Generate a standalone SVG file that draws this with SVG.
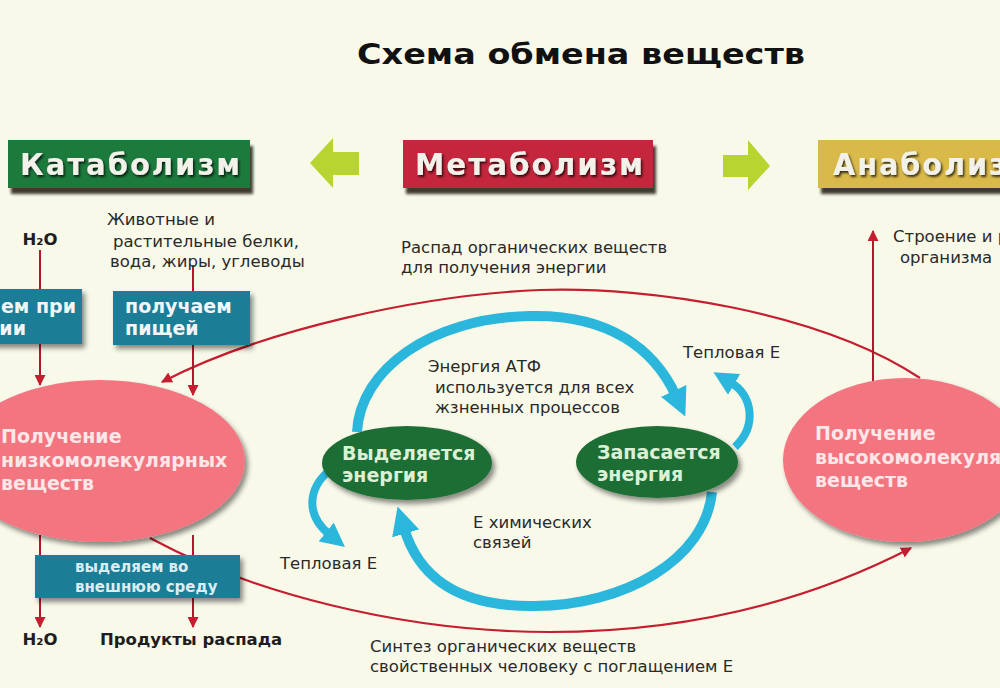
<svg xmlns="http://www.w3.org/2000/svg" width="1000" height="688" viewBox="0 0 1000 688">
<defs>
<filter id="hsh" x="-10%" y="-20%" width="130%" height="170%"><feDropShadow dx="3" dy="6" stdDeviation="1.8" flood-color="#1a1208" flood-opacity="0.85"/></filter>
<filter id="sh" x="-10%" y="-20%" width="130%" height="160%"><feDropShadow dx="3" dy="4" stdDeviation="2.5" flood-color="#000" flood-opacity="0.45"/></filter>
<filter id="tsh" x="-5%" y="-20%" width="115%" height="150%"><feDropShadow dx="1.5" dy="2" stdDeviation="0.8" flood-color="#000" flood-opacity="0.75"/></filter>
<marker id="ra" viewBox="0 0 10 10" refX="9" refY="5" markerWidth="11" markerHeight="11" markerUnits="userSpaceOnUse" orient="auto"><path d="M0,0 L10,5 L0,10 z" fill="#c41e30"/></marker>
<marker id="ba" viewBox="0 0 10 10" refX="2" refY="5" markerWidth="28" markerHeight="28" markerUnits="userSpaceOnUse" orient="auto"><path d="M0,0 L10,5 L0,10 z" fill="#2bb6dc"/></marker>
<marker id="bs" viewBox="0 0 10 10" refX="2" refY="5" markerWidth="24" markerHeight="24" markerUnits="userSpaceOnUse" orient="auto"><path d="M0,0 L10,5 L0,10 z" fill="#2bb6dc"/></marker>
<style>
text{font-family:"DejaVu Sans",Verdana,"Liberation Sans",sans-serif}
.lbl{font-size:16.5px;fill:#2a2a2a}
.blbl{font-size:16.5px;font-weight:bold;fill:#1e1e1e}
.head{font-size:30px;font-weight:bold;fill:#f2f2ea;letter-spacing:2px}
.teal{fill:#1a7d96}
.tt{font-size:19px;font-weight:bold;fill:#f2f6f8}
.pink{fill:#f27580}
.pt{font-size:19px;font-weight:bold;fill:#fde6e8}
.green{fill:#1f6e36}
.gt{font-size:19px;font-weight:bold;fill:#dcf0d6}
.rl{fill:none;stroke:#c41e30;stroke-width:2.2}
.vl{fill:none;stroke:#b5162c;stroke-width:2}
.bl{fill:none;stroke:#2bb6dc;stroke-width:10}
.bh{fill:none;stroke:#2bb6dc;stroke-width:8}
.lime{fill:#b8d430}
</style>
</defs>
<rect width="1000" height="688" fill="#f8f9e9"/>

<text id="title" x="581" y="64" text-anchor="middle" font-size="28" font-weight="bold" fill="#111" textLength="448" lengthAdjust="spacingAndGlyphs">Схема обмена веществ</text>

<g id="connectors">
  <path class="rl" d="M920 378 C820 312 650 286 540 290 C420 295 262 330 162 382" marker-end="url(#ra)"/>
  <path class="rl" d="M150 538 C250 592 400 632 550 632 C700 632 820 595 911 548" marker-end="url(#ra)"/>
  <path class="vl" d="M40 250 V385" marker-end="url(#ra)"/>
  <path class="vl" d="M193 265 V395" marker-end="url(#ra)"/>
  <path class="vl" d="M40 535 V627" marker-end="url(#ra)"/>
  <path class="vl" d="M193 535 V627" marker-end="url(#ra)"/>
  <path class="vl" d="M873 381 V231" marker-end="url(#ra)"/>
  <path class="bl" d="M357 432 C360 370 430 318 530 316 C610 314 655 350 676 396" marker-end="url(#ba)"/>
  <path class="bl" d="M712 492 C705 560 625 605 535 606 C455 607 418 575 404 528" marker-end="url(#ba)"/>
  <path class="bh" d="M330 470 C308 488 305 515 330 535" marker-end="url(#bs)"/>
  <path class="bh" d="M735 447 C758 425 752 395 730 382" marker-end="url(#bs)"/>
</g>

<g id="catabolism">
  <rect x="8" y="140" width="242" height="48" fill="#1d7a3c" filter="url(#hsh)"/>
  <text class="head" x="20" y="175" textLength="222" lengthAdjust="spacingAndGlyphs" filter="url(#tsh)">Катаболизм</text>
</g>
<polygon id="arrow-left" class="lime" points="310,163 333,138 333,152 359,152 359,175 333,175 333,188"/>
<g id="metabolism">
  <rect x="403" y="140" width="250" height="48" fill="#c4283c" filter="url(#hsh)"/>
  <text class="head" x="415" y="175" textLength="230" lengthAdjust="spacingAndGlyphs" filter="url(#tsh)">Метаболизм</text>
</g>
<polygon id="arrow-right" class="lime" points="770,166 748,140 748,155 723,155 723,177 748,177 748,190"/>
<g id="anabolism">
  <rect x="818" y="140" width="200" height="48" fill="#d9b94a" filter="url(#hsh)"/>
  <text class="head" x="833" y="175" textLength="200" lengthAdjust="spacingAndGlyphs" filter="url(#tsh)">Анаболизм</text>
</g>

<text id="h2o-top" class="blbl" x="40" y="245" text-anchor="middle">H₂O</text>
<g id="food-label">
  <text class="lbl" x="107" y="225">Животные и</text>
  <text class="lbl" x="113" y="247">растительные белки,</text>
  <text class="lbl" x="110" y="267">вода, жиры, углеводы</text>
</g>

<g id="box-breath">
  <rect class="teal" x="-10" y="289" width="92" height="55" filter="url(#sh)"/>
  <text class="tt" x="76" y="313" text-anchor="end">ем при</text>
  <text class="tt" x="26" y="335" text-anchor="end">ии</text>
</g>
<g id="box-food">
  <rect class="teal" x="113" y="291" width="137" height="54" filter="url(#sh)"/>
  <text class="tt" x="125" y="313">получаем</text>
  <text class="tt" x="125" y="335">пищей</text>
</g>

<g id="low-mol">
  <ellipse class="pink" cx="100" cy="461" rx="145" ry="81" filter="url(#sh)"/>
  <text class="pt" x="1" y="443">Получение</text>
  <text class="pt" x="1" y="467">низкомолекулярных</text>
  <text class="pt" x="1" y="490">веществ</text>
</g>

<g id="box-excrete">
  <rect class="teal" x="35" y="555" width="205" height="43" filter="url(#sh)"/>
  <text x="75" y="572" font-size="15" font-weight="bold" fill="#dcedf2">выделяем во</text>
  <text x="75" y="592" font-size="15" font-weight="bold" fill="#dcedf2">внешнюю среду</text>
</g>
<text id="h2o-bottom" class="blbl" x="40" y="645" text-anchor="middle">H₂O</text>
<text id="products" class="blbl" x="100" y="645">Продукты распада</text>

<g id="decay-label">
  <text class="lbl" x="401" y="253">Распад органических веществ</text>
  <text class="lbl" x="401" y="273">для получения энергии</text>
</g>

<g id="release">
  <ellipse class="green" cx="407" cy="463" rx="85" ry="37" filter="url(#sh)"/>
  <text class="gt" x="342" y="460">Выделяется</text>
  <text class="gt" x="342" y="482">энергия</text>
</g>
<g id="store">
  <ellipse class="green" cx="657" cy="462" rx="81" ry="36" filter="url(#sh)"/>
  <text class="gt" x="597" y="459">Запасается</text>
  <text class="gt" x="597" y="481">энергия</text>
</g>

<g id="atp-label">
  <text class="lbl" x="428" y="372">Энергия АТФ</text>
  <text class="lbl" x="435" y="393">используется для всех</text>
  <text class="lbl" x="435" y="413">жзненных процессов</text>
</g>
<g id="chem-label">
  <text class="lbl" x="473" y="528">Е химических</text>
  <text class="lbl" x="473" y="548">связей</text>
</g>
<text id="heat-left" class="lbl" x="280" y="569">Тепловая Е</text>
<text id="heat-right" class="lbl" x="683" y="358">Тепловая Е</text>

<g id="high-mol">
  <ellipse class="pink" cx="905" cy="460" rx="122" ry="82" filter="url(#sh)"/>
  <text class="pt" x="815" y="440">Получение</text>
  <text class="pt" x="815" y="464">высокомолекулярных</text>
  <text class="pt" x="815" y="487">веществ</text>
</g>

<g id="growth-label">
  <text class="lbl" x="893" y="242">Строение и рост</text>
  <text class="lbl" x="900" y="263">организма</text>
</g>

<g id="synth-label">
  <text class="lbl" x="370" y="652">Синтез органических веществ</text>
  <text class="lbl" x="370" y="672">свойственных человеку с поглащением Е</text>
</g>
</svg>
